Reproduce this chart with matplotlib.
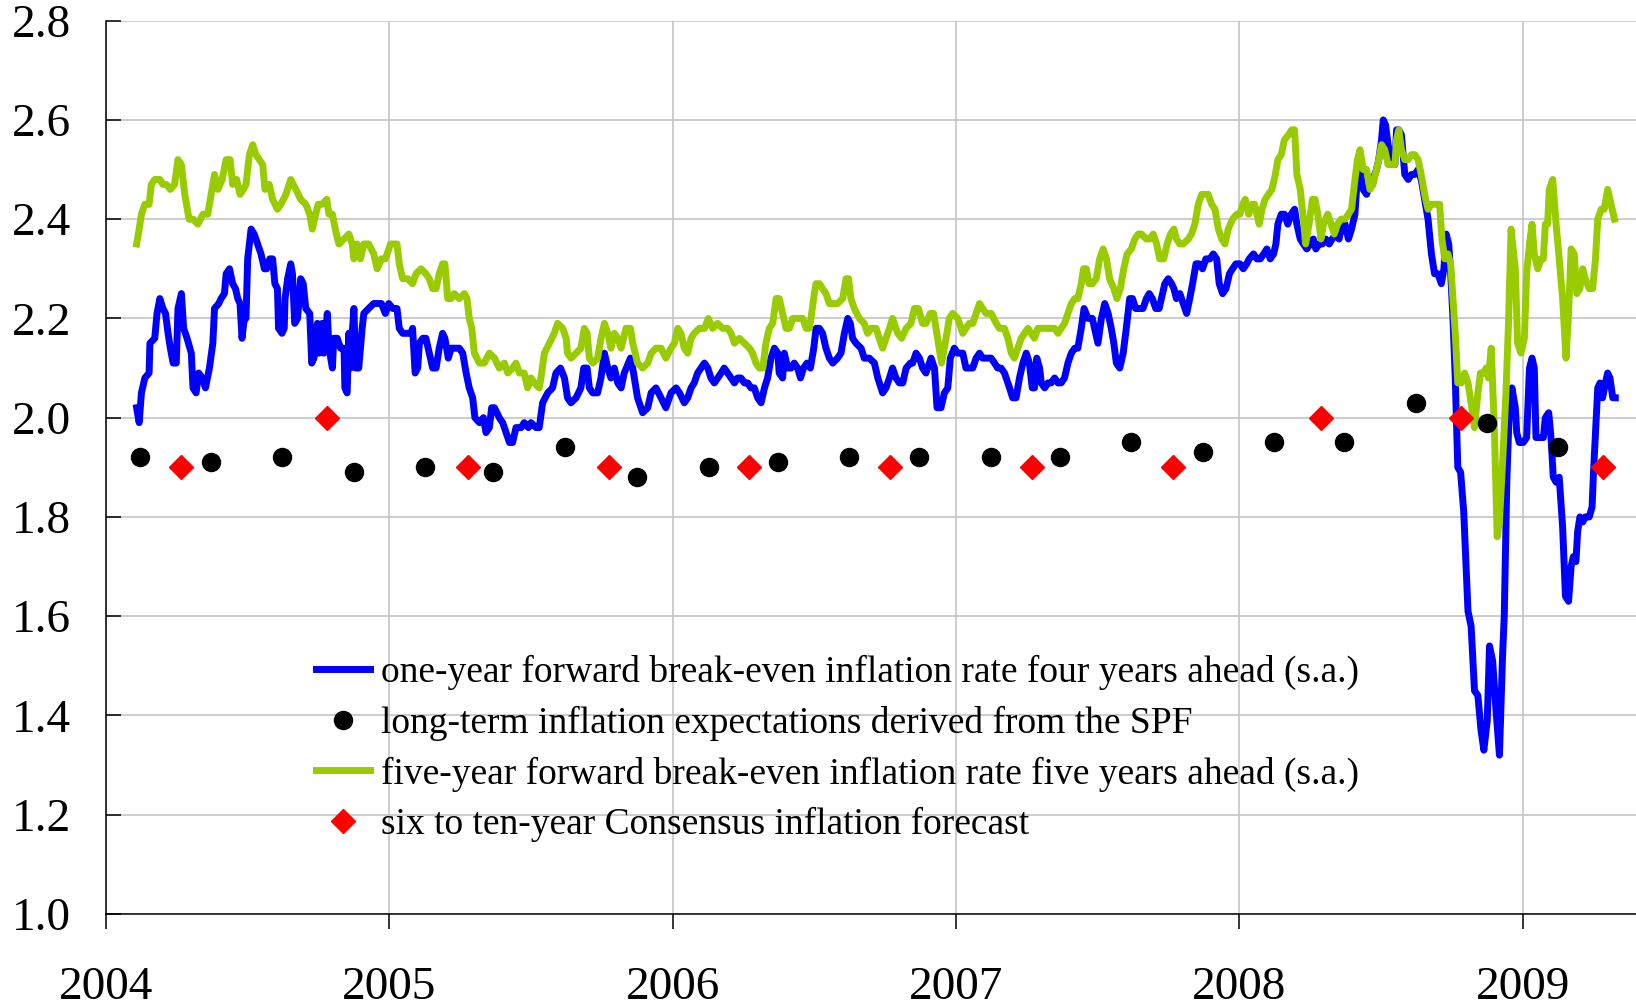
import matplotlib
matplotlib.use('Agg')
import matplotlib.pyplot as plt

# data (decimal year, percent)
one_year_fwd = [
    (2004.108, 2.02), (2004.117, 1.99), (2004.125, 2.05), (2004.137, 2.08), (2004.152, 2.09), (2004.155, 2.15),
    (2004.172, 2.16), (2004.180, 2.21), (2004.190, 2.24), (2004.201, 2.22), (2004.210, 2.21), (2004.219, 2.17),
    (2004.227, 2.14), (2004.237, 2.11), (2004.248, 2.11), (2004.254, 2.22), (2004.266, 2.25), (2004.274, 2.18),
    (2004.286, 2.16), (2004.301, 2.13), (2004.307, 2.06), (2004.318, 2.05), (2004.327, 2.09), (2004.340, 2.08),
    (2004.351, 2.06), (2004.365, 2.10), (2004.377, 2.15), (2004.383, 2.22), (2004.398, 2.23), (2004.406, 2.24),
    (2004.418, 2.25), (2004.424, 2.29), (2004.436, 2.30), (2004.447, 2.27), (2004.457, 2.26), (2004.465, 2.24),
    (2004.473, 2.23), (2004.480, 2.16), (2004.488, 2.20), (2004.494, 2.20), (2004.500, 2.32), (2004.512, 2.38),
    (2004.523, 2.37), (2004.535, 2.35), (2004.547, 2.33), (2004.559, 2.30), (2004.567, 2.30), (2004.578, 2.32),
    (2004.588, 2.32), (2004.596, 2.27), (2004.605, 2.26), (2004.609, 2.18), (2004.621, 2.17), (2004.629, 2.18),
    (2004.632, 2.24), (2004.641, 2.28), (2004.652, 2.31), (2004.658, 2.29), (2004.666, 2.19), (2004.676, 2.20),
    (2004.687, 2.28), (2004.696, 2.27), (2004.705, 2.22), (2004.719, 2.21), (2004.726, 2.11), (2004.734, 2.12),
    (2004.746, 2.19), (2004.752, 2.13), (2004.763, 2.19), (2004.769, 2.13), (2004.781, 2.21), (2004.787, 2.14),
    (2004.799, 2.10), (2004.804, 2.16), (2004.816, 2.16), (2004.828, 2.14), (2004.840, 2.14), (2004.843, 2.06),
    (2004.851, 2.05), (2004.857, 2.17), (2004.863, 2.10), (2004.869, 2.17), (2004.875, 2.22), (2004.881, 2.10),
    (2004.892, 2.10), (2004.904, 2.18), (2004.910, 2.21), (2004.927, 2.22), (2004.945, 2.23), (2004.957, 2.23),
    (2004.972, 2.23), (2004.986, 2.21), (2004.998, 2.23),
    (2005.012, 2.22), (2005.027, 2.22), (2005.035, 2.18), (2005.047, 2.17), (2005.065, 2.17), (2005.076, 2.17),
    (2005.082, 2.18), (2005.091, 2.09), (2005.100, 2.10), (2005.106, 2.15), (2005.118, 2.16), (2005.129, 2.16),
    (2005.141, 2.13), (2005.153, 2.10), (2005.165, 2.10), (2005.176, 2.14), (2005.188, 2.17), (2005.196, 2.16),
    (2005.208, 2.12), (2005.218, 2.14), (2005.229, 2.14), (2005.247, 2.14), (2005.259, 2.13), (2005.271, 2.09),
    (2005.282, 2.06), (2005.294, 2.04), (2005.302, 2.00), (2005.318, 1.99), (2005.332, 2.00), (2005.341, 1.97),
    (2005.353, 1.98), (2005.361, 2.02), (2005.371, 2.02), (2005.388, 2.00), (2005.400, 1.99), (2005.412, 1.97),
    (2005.424, 1.95), (2005.435, 1.95), (2005.447, 1.98), (2005.465, 1.98), (2005.476, 1.99), (2005.491, 1.98),
    (2005.500, 1.99), (2005.518, 1.98), (2005.529, 1.98), (2005.541, 2.03), (2005.559, 2.05), (2005.576, 2.06),
    (2005.588, 2.09), (2005.604, 2.10), (2005.618, 2.08), (2005.629, 2.04), (2005.641, 2.03), (2005.659, 2.04),
    (2005.676, 2.06), (2005.686, 2.10), (2005.698, 2.10), (2005.706, 2.06), (2005.718, 2.05), (2005.735, 2.05),
    (2005.747, 2.08), (2005.759, 2.13), (2005.771, 2.10), (2005.782, 2.08), (2005.794, 2.10), (2005.806, 2.07),
    (2005.818, 2.06), (2005.829, 2.09), (2005.851, 2.12), (2005.859, 2.10), (2005.876, 2.04), (2005.894, 2.01),
    (2005.912, 2.02), (2005.924, 2.05), (2005.941, 2.06), (2005.959, 2.04), (2005.976, 2.02), (2005.994, 2.05),
    (2006.012, 2.06), (2006.024, 2.05), (2006.041, 2.03), (2006.053, 2.04), (2006.065, 2.06), (2006.076, 2.07),
    (2006.088, 2.09), (2006.100, 2.10), (2006.112, 2.11), (2006.124, 2.10), (2006.135, 2.08), (2006.147, 2.07),
    (2006.159, 2.08), (2006.171, 2.09), (2006.182, 2.10), (2006.194, 2.09), (2006.206, 2.08), (2006.218, 2.07),
    (2006.229, 2.08), (2006.241, 2.08), (2006.253, 2.07), (2006.265, 2.07), (2006.276, 2.06), (2006.288, 2.06),
    (2006.300, 2.04), (2006.312, 2.03), (2006.324, 2.06), (2006.335, 2.08), (2006.347, 2.12), (2006.359, 2.14),
    (2006.371, 2.13), (2006.376, 2.09), (2006.388, 2.08), (2006.394, 2.13), (2006.406, 2.10), (2006.418, 2.10),
    (2006.429, 2.11), (2006.441, 2.10), (2006.451, 2.08), (2006.462, 2.10), (2006.474, 2.11), (2006.486, 2.10),
    (2006.498, 2.14), (2006.506, 2.18), (2006.518, 2.18), (2006.529, 2.17), (2006.541, 2.14), (2006.553, 2.12),
    (2006.565, 2.11), (2006.582, 2.12), (2006.594, 2.13), (2006.606, 2.17), (2006.618, 2.20), (2006.627, 2.19),
    (2006.635, 2.16), (2006.647, 2.15), (2006.665, 2.14), (2006.676, 2.12), (2006.694, 2.12), (2006.712, 2.11),
    (2006.724, 2.08), (2006.741, 2.05), (2006.753, 2.06), (2006.765, 2.08), (2006.776, 2.10), (2006.788, 2.08),
    (2006.800, 2.07), (2006.812, 2.07), (2006.824, 2.10), (2006.839, 2.11), (2006.847, 2.11), (2006.859, 2.13),
    (2006.871, 2.12), (2006.882, 2.10), (2006.894, 2.09), (2006.912, 2.12), (2006.924, 2.10), (2006.933, 2.02),
    (2006.947, 2.02), (2006.959, 2.05), (2006.971, 2.06), (2006.980, 2.12), (2006.994, 2.14),
    (2007.006, 2.13), (2007.024, 2.13), (2007.035, 2.10), (2007.047, 2.10), (2007.059, 2.10), (2007.071, 2.12),
    (2007.083, 2.13), (2007.094, 2.12), (2007.106, 2.12), (2007.124, 2.12), (2007.136, 2.11), (2007.147, 2.10),
    (2007.159, 2.10), (2007.171, 2.09), (2007.177, 2.08), (2007.189, 2.06), (2007.200, 2.04), (2007.212, 2.04),
    (2007.224, 2.08), (2007.236, 2.11), (2007.248, 2.13), (2007.259, 2.11), (2007.269, 2.06), (2007.277, 2.06),
    (2007.285, 2.12), (2007.295, 2.10), (2007.301, 2.07), (2007.313, 2.06), (2007.324, 2.07), (2007.336, 2.07),
    (2007.348, 2.08), (2007.360, 2.07), (2007.371, 2.07), (2007.383, 2.08), (2007.395, 2.11), (2007.407, 2.13),
    (2007.419, 2.14), (2007.430, 2.14), (2007.442, 2.18), (2007.452, 2.22), (2007.466, 2.20), (2007.481, 2.20),
    (2007.493, 2.17), (2007.501, 2.15), (2007.513, 2.20), (2007.525, 2.23), (2007.537, 2.21), (2007.548, 2.18),
    (2007.557, 2.15), (2007.566, 2.11), (2007.578, 2.10), (2007.590, 2.13), (2007.601, 2.18), (2007.613, 2.24),
    (2007.623, 2.24), (2007.634, 2.22), (2007.649, 2.22), (2007.660, 2.22), (2007.672, 2.24), (2007.682, 2.25),
    (2007.693, 2.24), (2007.705, 2.22), (2007.717, 2.22), (2007.725, 2.24), (2007.737, 2.27), (2007.749, 2.28),
    (2007.761, 2.27), (2007.769, 2.26), (2007.778, 2.24), (2007.790, 2.25), (2007.802, 2.23), (2007.814, 2.21),
    (2007.825, 2.24), (2007.835, 2.27), (2007.847, 2.31), (2007.858, 2.31), (2007.870, 2.30), (2007.882, 2.32),
    (2007.896, 2.32), (2007.908, 2.33), (2007.920, 2.32), (2007.929, 2.27), (2007.941, 2.25), (2007.953, 2.26),
    (2007.965, 2.29), (2007.976, 2.30), (2007.988, 2.31),
    (2008.002, 2.31), (2008.014, 2.30), (2008.026, 2.31), (2008.035, 2.32), (2008.050, 2.33), (2008.062, 2.32),
    (2008.074, 2.32), (2008.086, 2.33), (2008.097, 2.34), (2008.109, 2.32), (2008.121, 2.33), (2008.129, 2.35),
    (2008.136, 2.39), (2008.148, 2.41), (2008.159, 2.41), (2008.171, 2.39), (2008.183, 2.41), (2008.195, 2.42),
    (2008.203, 2.39), (2008.215, 2.36), (2008.226, 2.35), (2008.238, 2.34), (2008.250, 2.35), (2008.261, 2.36),
    (2008.270, 2.34), (2008.281, 2.35), (2008.293, 2.35), (2008.305, 2.36), (2008.317, 2.35), (2008.328, 2.36),
    (2008.340, 2.37), (2008.352, 2.36), (2008.363, 2.39), (2008.373, 2.39), (2008.385, 2.36), (2008.396, 2.38),
    (2008.408, 2.41), (2008.417, 2.49), (2008.426, 2.50), (2008.437, 2.46), (2008.449, 2.45), (2008.461, 2.47),
    (2008.472, 2.48), (2008.484, 2.50), (2008.492, 2.52), (2008.502, 2.56), (2008.508, 2.60), (2008.516, 2.59),
    (2008.525, 2.55), (2008.537, 2.52), (2008.549, 2.51), (2008.555, 2.58), (2008.563, 2.58), (2008.572, 2.57),
    (2008.584, 2.49), (2008.596, 2.48), (2008.607, 2.49), (2008.619, 2.49), (2008.631, 2.50), (2008.642, 2.48),
    (2008.654, 2.44), (2008.666, 2.40), (2008.678, 2.33), (2008.689, 2.29), (2008.701, 2.29), (2008.713, 2.27),
    (2008.722, 2.30), (2008.730, 2.37), (2008.739, 2.35), (2008.746, 2.29), (2008.754, 2.20), (2008.762, 2.08),
    (2008.771, 1.90), (2008.781, 1.89), (2008.792, 1.81), (2008.807, 1.61), (2008.818, 1.58), (2008.830, 1.45),
    (2008.842, 1.44), (2008.853, 1.37), (2008.863, 1.33), (2008.875, 1.39), (2008.883, 1.54), (2008.894, 1.51),
    (2008.906, 1.41), (2008.918, 1.32), (2008.929, 1.52), (2008.935, 1.60), (2008.944, 1.87), (2008.953, 2.02),
    (2008.962, 2.06), (2008.974, 2.02), (2008.979, 1.97), (2008.988, 1.95),
    (2009.002, 1.95), (2009.014, 1.96), (2009.024, 2.10), (2009.033, 2.12), (2009.041, 2.10), (2009.047, 1.96),
    (2009.059, 1.96), (2009.073, 1.96), (2009.080, 2.00), (2009.092, 2.01), (2009.100, 1.96), (2009.108, 1.88),
    (2009.118, 1.87), (2009.129, 1.88), (2009.141, 1.78), (2009.151, 1.64), (2009.162, 1.63), (2009.171, 1.70),
    (2009.179, 1.72), (2009.188, 1.71), (2009.194, 1.77), (2009.202, 1.80), (2009.212, 1.79), (2009.221, 1.80),
    (2009.235, 1.80), (2009.245, 1.82), (2009.250, 1.89), (2009.259, 1.99), (2009.265, 2.06), (2009.273, 2.07),
    (2009.282, 2.04), (2009.292, 2.07), (2009.300, 2.09), (2009.308, 2.08), (2009.318, 2.04), (2009.327, 2.04),
]

five_year_fwd = [
    (2004.108, 2.35), (2004.117, 2.38), (2004.125, 2.41), (2004.137, 2.43), (2004.152, 2.43), (2004.160, 2.47),
    (2004.172, 2.48), (2004.190, 2.48), (2004.201, 2.47), (2004.213, 2.47), (2004.227, 2.46), (2004.242, 2.47),
    (2004.254, 2.52), (2004.266, 2.51), (2004.278, 2.45), (2004.293, 2.40), (2004.307, 2.40), (2004.324, 2.39),
    (2004.342, 2.41), (2004.359, 2.41), (2004.371, 2.45), (2004.383, 2.49), (2004.395, 2.46), (2004.410, 2.48),
    (2004.424, 2.52), (2004.438, 2.52), (2004.447, 2.47), (2004.461, 2.48), (2004.473, 2.45), (2004.485, 2.46),
    (2004.494, 2.47), (2004.506, 2.53), (2004.518, 2.55), (2004.529, 2.53), (2004.541, 2.52), (2004.553, 2.51),
    (2004.561, 2.46), (2004.576, 2.47), (2004.588, 2.44), (2004.605, 2.42), (2004.617, 2.43), (2004.635, 2.45),
    (2004.652, 2.48), (2004.670, 2.46), (2004.687, 2.44), (2004.705, 2.43), (2004.719, 2.41), (2004.728, 2.38),
    (2004.740, 2.41), (2004.749, 2.43), (2004.763, 2.43), (2004.779, 2.44), (2004.787, 2.41), (2004.799, 2.41),
    (2004.813, 2.37), (2004.822, 2.35), (2004.840, 2.36), (2004.857, 2.37), (2004.869, 2.35), (2004.875, 2.32),
    (2004.886, 2.35), (2004.898, 2.32), (2004.910, 2.35), (2004.927, 2.35), (2004.945, 2.33), (2004.957, 2.30),
    (2004.972, 2.32), (2004.986, 2.32),
    (2005.004, 2.35), (2005.015, 2.35), (2005.027, 2.35), (2005.035, 2.31), (2005.047, 2.28), (2005.065, 2.28),
    (2005.082, 2.27), (2005.094, 2.29), (2005.112, 2.30), (2005.129, 2.29), (2005.141, 2.28), (2005.153, 2.26),
    (2005.165, 2.26), (2005.176, 2.29), (2005.188, 2.31), (2005.196, 2.31), (2005.206, 2.24), (2005.218, 2.24),
    (2005.229, 2.25), (2005.247, 2.24), (2005.265, 2.25), (2005.274, 2.24), (2005.282, 2.20), (2005.291, 2.18),
    (2005.300, 2.13), (2005.318, 2.11), (2005.335, 2.11), (2005.353, 2.13), (2005.371, 2.12), (2005.388, 2.10),
    (2005.406, 2.11), (2005.418, 2.09), (2005.435, 2.10), (2005.447, 2.11), (2005.459, 2.09), (2005.476, 2.09),
    (2005.488, 2.06), (2005.500, 2.08), (2005.512, 2.07), (2005.529, 2.06), (2005.535, 2.08), (2005.547, 2.13),
    (2005.565, 2.15), (2005.582, 2.17), (2005.594, 2.19), (2005.612, 2.18), (2005.624, 2.16), (2005.629, 2.13),
    (2005.641, 2.12), (2005.659, 2.13), (2005.676, 2.14), (2005.688, 2.18), (2005.698, 2.17), (2005.706, 2.12),
    (2005.718, 2.11), (2005.735, 2.12), (2005.747, 2.16), (2005.759, 2.19), (2005.771, 2.17), (2005.782, 2.14),
    (2005.794, 2.17), (2005.806, 2.16), (2005.818, 2.14), (2005.835, 2.18), (2005.851, 2.18), (2005.859, 2.15),
    (2005.876, 2.11), (2005.894, 2.10), (2005.912, 2.11), (2005.924, 2.13), (2005.941, 2.14), (2005.959, 2.14),
    (2005.976, 2.12), (2005.994, 2.14),
    (2006.006, 2.15), (2006.018, 2.18), (2006.029, 2.17), (2006.041, 2.14), (2006.053, 2.13), (2006.065, 2.16),
    (2006.076, 2.17), (2006.094, 2.18), (2006.112, 2.18), (2006.126, 2.20), (2006.141, 2.18), (2006.159, 2.19),
    (2006.176, 2.18), (2006.194, 2.18), (2006.206, 2.17), (2006.218, 2.15), (2006.235, 2.16), (2006.253, 2.15),
    (2006.271, 2.14), (2006.282, 2.13), (2006.294, 2.11), (2006.306, 2.10), (2006.318, 2.10), (2006.329, 2.15),
    (2006.341, 2.18), (2006.353, 2.19), (2006.365, 2.24), (2006.376, 2.24), (2006.388, 2.21), (2006.400, 2.18),
    (2006.412, 2.18), (2006.424, 2.20), (2006.441, 2.20), (2006.459, 2.20), (2006.471, 2.18), (2006.482, 2.18),
    (2006.488, 2.20), (2006.500, 2.25), (2006.506, 2.27), (2006.518, 2.27), (2006.529, 2.26), (2006.541, 2.25),
    (2006.553, 2.23), (2006.565, 2.23), (2006.582, 2.23), (2006.600, 2.24), (2006.612, 2.28), (2006.621, 2.28),
    (2006.629, 2.24), (2006.641, 2.22), (2006.659, 2.20), (2006.676, 2.19), (2006.688, 2.17), (2006.700, 2.18),
    (2006.718, 2.18), (2006.729, 2.16), (2006.741, 2.14), (2006.753, 2.16), (2006.765, 2.18), (2006.776, 2.20),
    (2006.794, 2.17), (2006.808, 2.16), (2006.824, 2.18), (2006.841, 2.19), (2006.853, 2.22), (2006.867, 2.22),
    (2006.882, 2.19), (2006.894, 2.19), (2006.909, 2.21), (2006.921, 2.21), (2006.935, 2.16), (2006.949, 2.11),
    (2006.965, 2.16), (2006.976, 2.20), (2006.988, 2.21),
    (2007.006, 2.20), (2007.024, 2.17), (2007.035, 2.18), (2007.047, 2.19), (2007.059, 2.19), (2007.071, 2.21),
    (2007.083, 2.23), (2007.094, 2.22), (2007.106, 2.21), (2007.124, 2.21), (2007.142, 2.19), (2007.153, 2.18),
    (2007.171, 2.18), (2007.183, 2.16), (2007.195, 2.13), (2007.206, 2.12), (2007.218, 2.14), (2007.230, 2.16),
    (2007.242, 2.17), (2007.254, 2.18), (2007.265, 2.17), (2007.277, 2.16), (2007.289, 2.18), (2007.307, 2.18),
    (2007.324, 2.18), (2007.336, 2.18), (2007.348, 2.18), (2007.360, 2.17), (2007.371, 2.18), (2007.383, 2.19),
    (2007.395, 2.21), (2007.407, 2.23), (2007.419, 2.24), (2007.430, 2.24), (2007.442, 2.27), (2007.450, 2.30),
    (2007.460, 2.30), (2007.469, 2.27), (2007.481, 2.27), (2007.495, 2.28), (2007.507, 2.32), (2007.519, 2.34),
    (2007.531, 2.32), (2007.542, 2.28), (2007.557, 2.26), (2007.568, 2.24), (2007.580, 2.26), (2007.592, 2.30),
    (2007.604, 2.33), (2007.619, 2.34), (2007.631, 2.36), (2007.643, 2.37), (2007.654, 2.37), (2007.672, 2.36),
    (2007.684, 2.36), (2007.696, 2.37), (2007.708, 2.35), (2007.719, 2.32), (2007.733, 2.32), (2007.745, 2.35),
    (2007.757, 2.37), (2007.769, 2.38), (2007.778, 2.36), (2007.790, 2.35), (2007.802, 2.35), (2007.820, 2.36),
    (2007.831, 2.37), (2007.843, 2.39), (2007.855, 2.43), (2007.867, 2.45), (2007.879, 2.45), (2007.890, 2.45),
    (2007.902, 2.43), (2007.914, 2.42), (2007.926, 2.38), (2007.938, 2.36), (2007.949, 2.35), (2007.961, 2.38),
    (2007.976, 2.40), (2007.991, 2.41),
    (2008.002, 2.41), (2008.012, 2.43), (2008.021, 2.44), (2008.033, 2.41), (2008.045, 2.43), (2008.054, 2.43),
    (2008.062, 2.41), (2008.070, 2.39), (2008.080, 2.42), (2008.091, 2.44), (2008.103, 2.45), (2008.115, 2.46),
    (2008.127, 2.49), (2008.136, 2.52), (2008.148, 2.53), (2008.159, 2.56), (2008.174, 2.57), (2008.185, 2.58),
    (2008.195, 2.58), (2008.203, 2.49), (2008.215, 2.46), (2008.226, 2.40), (2008.234, 2.35), (2008.246, 2.39),
    (2008.258, 2.44), (2008.267, 2.44), (2008.277, 2.41), (2008.288, 2.36), (2008.297, 2.39), (2008.312, 2.41),
    (2008.324, 2.39), (2008.335, 2.37), (2008.347, 2.39), (2008.359, 2.40), (2008.373, 2.40), (2008.385, 2.41),
    (2008.396, 2.42), (2008.408, 2.48), (2008.417, 2.52), (2008.426, 2.54), (2008.437, 2.50), (2008.449, 2.50),
    (2008.461, 2.46), (2008.472, 2.47), (2008.484, 2.50), (2008.492, 2.52), (2008.502, 2.55), (2008.513, 2.54),
    (2008.525, 2.51), (2008.537, 2.51), (2008.549, 2.51), (2008.555, 2.56), (2008.563, 2.58), (2008.572, 2.54),
    (2008.584, 2.52), (2008.596, 2.52), (2008.607, 2.53), (2008.619, 2.53), (2008.631, 2.52), (2008.642, 2.49),
    (2008.654, 2.45), (2008.666, 2.42), (2008.678, 2.43), (2008.689, 2.43), (2008.707, 2.43), (2008.715, 2.36),
    (2008.725, 2.32), (2008.736, 2.33), (2008.746, 2.31), (2008.754, 2.24), (2008.762, 2.17), (2008.771, 2.07),
    (2008.783, 2.07), (2008.795, 2.09), (2008.807, 2.07), (2008.818, 2.03), (2008.830, 1.98), (2008.842, 2.05),
    (2008.851, 2.09), (2008.863, 2.09), (2008.871, 2.10), (2008.879, 2.08), (2008.889, 2.14), (2008.900, 1.98),
    (2008.910, 1.76), (2008.918, 1.79), (2008.930, 1.92), (2008.941, 2.05), (2008.950, 2.19), (2008.959, 2.38),
    (2008.974, 2.30), (2008.982, 2.15), (2008.994, 2.13),
    (2009.006, 2.16), (2009.014, 2.29), (2009.024, 2.35), (2009.033, 2.39), (2009.041, 2.33), (2009.053, 2.30),
    (2009.065, 2.32), (2009.073, 2.32), (2009.080, 2.39), (2009.088, 2.39), (2009.094, 2.46), (2009.106, 2.48),
    (2009.118, 2.39), (2009.129, 2.32), (2009.141, 2.24), (2009.153, 2.12), (2009.162, 2.21), (2009.171, 2.34),
    (2009.182, 2.33), (2009.191, 2.25), (2009.202, 2.26), (2009.212, 2.30), (2009.221, 2.28), (2009.235, 2.26),
    (2009.247, 2.26), (2009.257, 2.32), (2009.265, 2.40), (2009.277, 2.42), (2009.288, 2.42), (2009.300, 2.46),
    (2009.312, 2.43), (2009.324, 2.40),
]

spf_dates = [2004.12, 2004.37, 2004.62, 2004.875, 2005.125, 2005.365, 2005.62, 2005.873, 2006.128, 2006.371,
             2006.621, 2006.871, 2007.125, 2007.368, 2007.619, 2007.873, 2008.124, 2008.371, 2008.622, 2008.873,
             2009.124]
spf_values = [1.92, 1.91, 1.92, 1.89, 1.90, 1.89, 1.94, 1.88, 1.90, 1.91, 1.92, 1.92, 1.92, 1.92, 1.95, 1.93,
              1.95, 1.95, 2.03, 1.99, 1.94]

consensus_dates = [2004.263, 2004.779, 2005.276, 2005.777, 2006.271, 2006.768, 2007.269, 2007.767, 2008.287,
                   2008.784, 2009.282]
consensus_values = [1.90, 2.00, 1.90, 1.90, 1.90, 1.90, 1.90, 1.90, 2.00, 2.00, 1.90]

labels = ['one-year forward break-even inflation rate four years ahead (s.a.)',
          'long-term inflation expectations derived from the SPF',
          'five-year forward break-even inflation rate five years ahead (s.a.)',
          'six to ten-year Consensus inflation forecast']

years = [2004, 2005, 2006, 2007, 2008, 2009]
yticks = [1.0, 1.2, 1.4, 1.6, 1.8, 2.0, 2.2, 2.4, 2.6, 2.8]

plt.rcParams['font.family'] = ['Liberation Serif', 'DejaVu Serif']

fig = plt.figure(figsize=(16.36, 10.08), dpi=100)
ax = fig.add_axes([0.0648, 0.0933, 0.9352, 0.8862])

bx, by = zip(*one_year_fwd)
gx, gy = zip(*five_year_fwd)

h1, = ax.plot(bx, by, color='#0000ff', lw=5, solid_joinstyle='round', zorder=3)
h3, = ax.plot(gx, gy, color='#99cc00', lw=5, solid_joinstyle='round', zorder=4)
h2, = ax.plot(spf_dates, spf_values, 'o', color='black', ms=13, ls='none', zorder=5)
h4, = ax.plot(consensus_dates, consensus_values, 'D', color='#ff0000', ms=12.5, ls='none', zorder=6)

ax.set_xlim(2004, 2009.40)
ax.set_ylim(1.0, 2.8)
ax.set_xticks(years)
ax.set_xticklabels([str(y) for y in years])
ax.set_yticks(yticks)
ax.set_yticklabels(['%.1f' % v for v in yticks])

ax.grid(True, color='#c0c0c0', lw=1.1)
ax.set_axisbelow(True)
for s in ['top', 'right']:
    ax.spines[s].set_visible(False)
for s in ['left', 'bottom']:
    ax.spines[s].set_linewidth(1.1)
    ax.spines[s].set_color('black')

ax.tick_params(axis='y', direction='in', length=11, width=1.1, pad=25, labelsize=34)
ax.tick_params(axis='x', direction='out', length=11, width=1.1, pad=27, labelsize=34)

fig.legend([h1, h2, h3, h4], labels, loc='upper left', bbox_to_anchor=(0.193, 0.350),
           frameon=False, fontsize=27, handlelength=1.44, handletextpad=0.3,
           labelspacing=0.41, borderpad=0, borderaxespad=0)

fig.savefig('out.png', dpi=100)
